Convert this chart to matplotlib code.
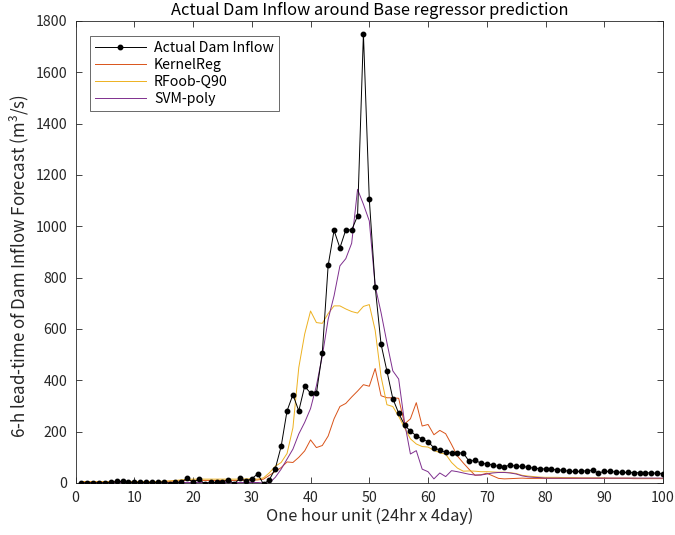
import numpy as np
import matplotlib
matplotlib.use("Agg")
import matplotlib.pyplot as plt

plt.rcParams['font.family'] = ['Noto Sans CJK JP', 'DejaVu Sans']
plt.rcParams['mathtext.fontset'] = 'custom'
plt.rcParams['mathtext.rm'] = 'Noto Sans CJK JP'

hours = np.arange(1, 101)

actual = [0, 0, 0, 0, 0, 2, 6, 6, 3, 2,
          2, 2, 2, 2, 4, -2, 2, 4, 18, 3,
          15, -3, 2, 2, 3, 13, -3, 18, 8, 16,
          36, -5, 13, 56, 143, 281, 344, 281, 377, 350,
          350, 507, 848, 984, 916, 986, 986, 1040, 1750, 1106,
          765, 541, 436, 329, 272, 226, 202, 184, 171, 161,
          137, 128, 119, 117, 117, 117, 84, 89, 77, 74,
          70, 65, 64, 70, 65, 65, 61, 58, 56, 54,
          53, 51, 50, 45, 45, 45, 48, 50, 39, 45,
          45, 43, 41, 41, 40, 40, 40, 39, 38, 35]

kernel_reg = [5, 5, 5, 5, 5, 5, 5, 5, 5, 5,
              5, 5, 5, 5, 6, 7, 8, 9, 10, 10,
              10, 10, 10, 10, 10, 10, 10, 10, 11, 11,
              12, 15, 30, 45, 60, 82, 80, 100, 125, 168,
              138, 146, 183, 250, 298, 310, 335, 358, 383, 377,
              446, 340, 332, 332, 330, 230, 250, 313, 222, 228,
              188, 205, 192, 150, 105, 78, 53, 30, 32, 38,
              28, 18, 16, 17, 18, 19, 18, 18, 18, 18,
              18, 18, 18, 18, 18, 18, 18, 18, 18, 18,
              18, 18, 18, 18, 17, 17, 17, 17, 17, 17]

rf_q90 = [5, 5, 5, 5, 5, 5, 5, 5, 5, 5,
          5, 5, 5, 6, 7, 8, 10, 12, 14, 15,
          15, 15, 15, 15, 15, 15, 15, 15, 16, 16,
          15, 20, 40, 65, 80, 115, 215, 450, 580, 670,
          625, 622, 660, 690, 690, 678, 668, 662, 688, 695,
          595, 415, 305, 298, 260, 215, 172, 152, 142, 140,
          127, 118, 112, 80, 58, 46, 47, 46, 44, 44,
          43, 42, 42, 40, 37, 30, 27, 25, 23, 22,
          22, 22, 21, 21, 21, 20, 20, 20, 20, 20,
          19, 19, 19, 19, 19, 18, 18, 18, 18, 18]

svm_poly = [2, 2, 2, 2, 2, 2, 2, 2, 2, 2,
            2, 2, 2, 2, 2, 2, 2, 2, 2, 2,
            2, 2, 2, 2, 2, 2, 2, 2, 2, 2,
            2, 0, 0, 22, 54, 93, 132, 191, 236, 290,
            379, 495, 638, 729, 846, 874, 934, 1144, 1086, 1021,
            768, 664, 547, 437, 405, 236, 113, 126, 54, 44,
            16, 39, 25, 48, 44, 39, 34, 31, 31, 35,
            39, 41, 41, 39, 35, 28, 24, 22, 21, 19,
            19, 19, 19, 19, 19, 19, 19, 19, 19, 19,
            19, 19, 19, 19, 19, 19, 19, 19, 19, 19]

axis_col = (0.15, 0.15, 0.15)

fig = plt.figure(figsize=(6.75, 5.35), dpi=100)
ax = fig.add_axes([0.1119, 0.0972, 0.8704, 0.8636])

ax.plot(hours, actual, '-', color='k', lw=0.7, marker='o', ms=3.2, label='Actual Dam Inflow', zorder=5)
ax.plot(hours, kernel_reg, color=(0.85, 0.325, 0.098), lw=0.7, label='KernelReg')
ax.plot(hours, rf_q90, color=(0.929, 0.694, 0.125), lw=0.7, label='RFoob-Q90')
ax.plot(hours, svm_poly, color=(0.494, 0.184, 0.556), lw=0.7, label='SVM-poly')

ax.set_xlim(0, 100)
ax.set_ylim(0, 1800)
ax.set_xticks(np.arange(0, 101, 10))
ax.set_yticks(np.arange(0, 1801, 200))
ax.tick_params(direction='in', top=True, right=True, length=4, width=0.6,
               colors=axis_col, labelsize=10.2, labelcolor=axis_col, pad=6)
for s in ax.spines.values():
    s.set_color(axis_col)
    s.set_linewidth(0.6)

ax.set_title('Actual Dam Inflow around Base regressor prediction', fontsize=11.8, color='k', pad=4)
ax.set_xlabel('One hour unit (24hr x 4day)', fontsize=11.8, color=axis_col, labelpad=2)
ax.set_ylabel('6-h lead-time of Dam Inflow Forecast (m$^3$/s)', fontsize=12.2, color=axis_col)
ax.yaxis.set_label_coords(-0.075, 0.47)

leg = ax.legend(loc='upper left', bbox_to_anchor=(0.024, 0.967), fontsize=10.2, frameon=True,
                fancybox=False, edgecolor=axis_col, handlelength=3.6, borderpad=0.35,
                labelspacing=0.2, handletextpad=0.6, borderaxespad=0)
leg.get_frame().set_linewidth(0.6)

fig.savefig('out.png', dpi=100)
